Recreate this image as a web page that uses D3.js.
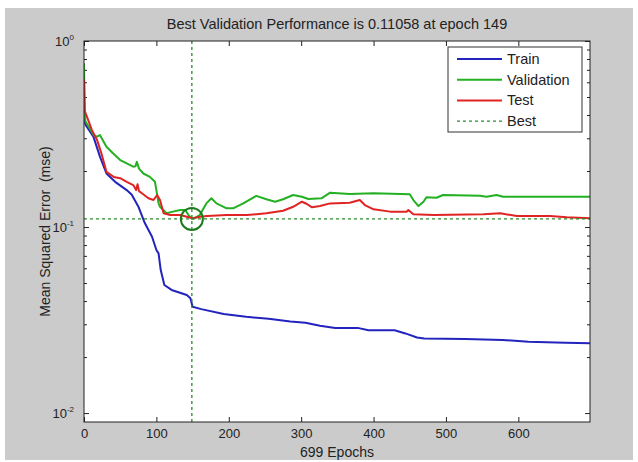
<!DOCTYPE html>
<html>
<head>
<meta charset="utf-8">
<script src="https://cdn.jsdelivr.net/npm/d3@7"></script>
<style>
  body { margin: 0; background: #fff; }
  text { font-family: "Liberation Sans", Arial, sans-serif; fill: #222; }
</style>
</head>
<body>
<div id="chart"></div>
<script>
// values (epoch, mse)
var trainEpochs = [0, 2, 13, 22, 31, 43, 59, 66, 75, 84, 94, 100, 103, 106, 111, 121, 142, 147, 150, 162, 193, 224, 255, 285, 306, 326, 347, 378, 393, 429, 444, 460, 470, 527, 578, 614, 665, 699];
var trainValues = [0.39, 0.355, 0.306, 0.239, 0.194, 0.175, 0.158, 0.149, 0.129, 0.105, 0.0887, 0.0752, 0.0722, 0.0587, 0.0488, 0.0459, 0.0431, 0.0414, 0.0373, 0.0362, 0.0341, 0.0329, 0.0321, 0.0311, 0.0306, 0.0295, 0.0287, 0.0287, 0.0279, 0.0279, 0.0268, 0.0255, 0.0252, 0.0250, 0.0247, 0.0242, 0.0239, 0.0237];

var valEpochs = [0, 1, 2, 8, 14, 18, 22, 31, 40, 50, 59, 68, 71, 73, 76, 82, 91, 98, 100, 103, 105, 114, 123, 133, 140, 145, 149, 155, 160, 169, 176, 183, 197, 206, 220, 238, 252, 264, 275, 289, 301, 310, 328, 340, 367, 400, 450, 455, 462, 469, 473, 487, 496, 547, 556, 570, 579, 699];
var valValues = [0.76, 0.40, 0.37, 0.339, 0.31, 0.306, 0.312, 0.270, 0.249, 0.229, 0.220, 0.211, 0.212, 0.224, 0.206, 0.194, 0.186, 0.175, 0.158, 0.134, 0.1285, 0.1185, 0.121, 0.1234, 0.1234, 0.115, 0.1106, 0.113, 0.116, 0.134, 0.1427, 0.134, 0.126, 0.126, 0.134, 0.147, 0.141, 0.1368, 0.141, 0.1486, 0.1455, 0.1414, 0.1427, 0.153, 0.1504, 0.1517, 0.1499, 0.1397, 0.1297, 0.1368, 0.1444, 0.1437, 0.1486, 0.1473, 0.1455, 0.1486, 0.1455, 0.1455];

var testEpochs = [0, 1, 4, 11, 18, 24, 31, 41, 50, 59, 68, 72, 74, 76, 80, 89, 96, 101, 105, 110, 119, 133, 142, 151, 160, 170, 197, 225, 252, 275, 289, 301, 308, 315, 326, 340, 367, 381, 388, 400, 423, 446, 448, 455, 483, 552, 575, 598, 644, 667, 699];
var testValues = [0.62, 0.42, 0.392, 0.332, 0.294, 0.249, 0.198, 0.186, 0.183, 0.175, 0.168, 0.158, 0.170, 0.156, 0.152, 0.1427, 0.1397, 0.1486, 0.1397, 0.1185, 0.116, 0.116, 0.1136, 0.1114, 0.1136, 0.1146, 0.116, 0.116, 0.1185, 0.1224, 0.1285, 0.1368, 0.133, 0.1276, 0.1297, 0.134, 0.135, 0.1397, 0.1313, 0.1245, 0.121, 0.121, 0.1234, 0.117, 0.116, 0.117, 0.1185, 0.1146, 0.1146, 0.1128, 0.1114];

var bestEpoch = 149;
var bestValue = 0.11058;

var xTicks = [0, 100, 200, 300, 400, 500, 600];
var yMajorTicks = [1, 0.1, 0.01];
var yTickExponents = ["0", "-1", "-2"];
var yMinorFactors = [2, 3, 4, 5, 6, 7, 8, 9];

var legendNames = ["Train", "Validation", "Test", "Best"];
var colors = { train: "#2323bd", val: "#23b023", test: "#e02424", best: "#2a8a2a" };

var svgWidth = 638, svgHeight = 462;
var margin = { top: 41, right: 48, bottom: 40, left: 84 };
var chartWidth = svgWidth - margin.left - margin.right;   // 506
var chartHeight = svgHeight - margin.top - margin.bottom; // 381

var svg = d3.select("#chart").append("svg")
    .attr("width", svgWidth)
    .attr("height", svgHeight);

// figure background
svg.append("rect")
    .attr("x", 5).attr("y", 8)
    .attr("width", 628).attr("height", 452)
    .attr("fill", "#cbcbcb");

var chartGroup = svg.append("g")
    .attr("transform", `translate(${margin.left}, ${margin.top})`);

var xScale = d3.scaleLinear().domain([0, 699]).range([0, chartWidth]);
var yScale = d3.scaleLog().domain([Math.pow(10, -2.048), 1]).range([chartHeight, 0]);

chartGroup.append("rect")
    .attr("width", chartWidth).attr("height", chartHeight)
    .attr("fill", "#fff");

chartGroup.append("clipPath").attr("id", "clip")
  .append("rect").attr("width", chartWidth).attr("height", chartHeight);

var yMinorTicks = [];
[0.1, 0.01].forEach(function(dec) {
    yMinorFactors.forEach(function(f) { yMinorTicks.push(f * dec); });
});

// ticks pointing inwards, like matlab
function styleAxis(g) {
    g.select(".domain").remove();
    g.selectAll("line").attr("stroke", "#222");
}

chartGroup.append("g")
    .attr("transform", "translate(0," + chartHeight + ")")
    .call(d3.axisBottom(xScale).tickValues(xTicks).tickSizeInner(-5).tickSizeOuter(0).tickPadding(7))
    .call(styleAxis)
    .selectAll("text")
    .style("font-family", "Liberation Sans, Arial, sans-serif")
    .style("font-size", "13px")
    .attr("fill", "#222");

chartGroup.append("g")
    .call(d3.axisTop(xScale).tickValues(xTicks).tickSizeInner(-5).tickSizeOuter(0).tickFormat(""))
    .call(styleAxis);

chartGroup.append("g")
    .call(d3.axisLeft(yScale).tickValues(yMajorTicks).tickSizeInner(-5).tickSizeOuter(0).tickFormat(""))
    .call(styleAxis);
chartGroup.append("g")
    .call(d3.axisLeft(yScale).tickValues(yMinorTicks).tickSizeInner(-3).tickSizeOuter(0).tickFormat(""))
    .call(styleAxis);
chartGroup.append("g")
    .attr("transform", "translate(" + chartWidth + ",0)")
    .call(d3.axisRight(yScale).tickValues(yMajorTicks).tickSizeInner(-5).tickSizeOuter(0).tickFormat(""))
    .call(styleAxis);
chartGroup.append("g")
    .attr("transform", "translate(" + chartWidth + ",0)")
    .call(d3.axisRight(yScale).tickValues(yMinorTicks).tickSizeInner(-3).tickSizeOuter(0).tickFormat(""))
    .call(styleAxis);

// y tick labels 10^n
yMajorTicks.forEach(function(v, i) {
    var t = chartGroup.append("text")
        .attr("x", -10)
        .attr("y", yScale(v) + 5)
        .attr("text-anchor", "end")
        .style("font-size", "13px");
    t.append("tspan").text("10");
    t.append("tspan").attr("dy", -6).style("font-size", "8px").text(yTickExponents[i]);
});

var drawLine = d3.line()
    .x(function(d) { return xScale(d[0]); })
    .y(function(d) { return yScale(d[1]); });

var lines = chartGroup.append("g").attr("clip-path", "url(#clip)");

function addSeries(epochs, values, color) {
    var pts = epochs.map(function(e, i) { return [e, values[i]]; });
    lines.append("path")
        .datum(pts)
        .attr("d", drawLine)
        .attr("fill", "none")
        .attr("stroke", color)
        .attr("stroke-width", 2)
        .attr("stroke-linejoin", "round");
}
addSeries(trainEpochs, trainValues, colors.train);
addSeries(valEpochs, valValues, colors.val);
addSeries(testEpochs, testValues, colors.test);

// best lines
lines.append("line")
    .attr("x1", xScale(bestEpoch)).attr("x2", xScale(bestEpoch))
    .attr("y1", 0).attr("y2", chartHeight)
    .attr("stroke", colors.best).attr("stroke-width", 1.3)
    .attr("stroke-dasharray", "3,3");
lines.append("line")
    .attr("x1", 0).attr("x2", chartWidth)
    .attr("y1", yScale(bestValue)).attr("y2", yScale(bestValue))
    .attr("stroke", colors.best).attr("stroke-width", 1.3)
    .attr("stroke-dasharray", "3,3");
lines.append("circle")
    .attr("cx", xScale(bestEpoch)).attr("cy", yScale(bestValue))
    .attr("r", 11)
    .attr("fill", "none")
    .attr("stroke", "#1c7a1c")
    .attr("stroke-width", 2);

// frame
chartGroup.append("rect")
    .attr("width", chartWidth).attr("height", chartHeight)
    .attr("fill", "none").attr("stroke", "#222").attr("stroke-width", 1);

// legend
var legend = svg.append("g").attr("transform", "translate(448,47)");
legend.append("rect")
    .attr("width", 134).attr("height", 85)
    .attr("fill", "#fff").attr("stroke", "#333");
var legendColors = [colors.train, colors.val, colors.test, colors.best];
legendNames.forEach(function(name, i) {
    var ly = 12 + i * 20.7;
    legend.append("line")
        .attr("x1", 9).attr("x2", 54)
        .attr("y1", ly).attr("y2", ly)
        .attr("stroke", legendColors[i])
        .attr("stroke-width", i == 3 ? 1.3 : 2)
        .attr("stroke-dasharray", i == 3 ? "3,3" : null);
    legend.append("text")
        .attr("x", 59).attr("y", ly + 5)
        .style("font-size", "14.5px")
        .text(name);
});

// title and labels
svg.append("text")
    .attr("x", margin.left + chartWidth / 2).attr("y", 29)
    .attr("text-anchor", "middle")
    .style("font-size", "14.5px")
    .text("Best Validation Performance is 0.11058 at epoch 149");

svg.append("text")
    .attr("x", margin.left + chartWidth / 2).attr("y", 457)
    .attr("text-anchor", "middle")
    .style("font-size", "14px")
    .text("699 Epochs");

svg.append("text")
    .attr("transform", "translate(50," + (margin.top + chartHeight / 2) + ") rotate(-90)")
    .attr("text-anchor", "middle")
    .style("font-size", "14px")
    .style("white-space", "pre")
    .text("Mean Squared Error  (mse)");
</script>
</body>
</html>
